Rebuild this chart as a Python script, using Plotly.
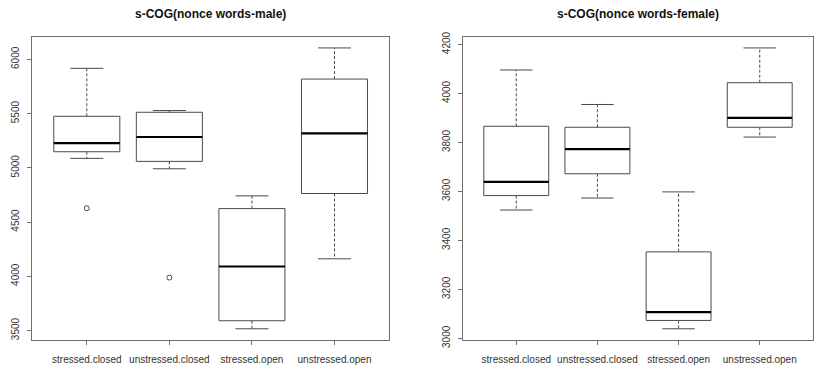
import plotly.graph_objects as go

categories = ["stressed.closed", "unstressed.closed", "stressed.open", "unstressed.open"]

# male panel (five-number summaries + outliers)
male_lower = [5087, 4991, 3516, 4161]
male_q1 = [5148, 5059, 3590, 4763]
male_median = [5228, 5284, 4090, 5318]
male_q3 = [5475, 5512, 4624, 5818]
male_upper = [5917, 5528, 4741, 6105]
male_outliers = [[4627], [3988], [], []]

# female panel
female_lower = [3524, 3573, 3039, 3822]
female_q1 = [3583, 3672, 3073, 3862]
female_median = [3639, 3773, 3107, 3900]
female_q3 = [3866, 3862, 3353, 4044]
female_upper = [4096, 3955, 3598, 4186]
female_outliers = [[], [], [], []]

male_ticks = [3500, 4000, 4500, 5000, 5500, 6000]
female_ticks = [3000, 3200, 3400, 3600, 3800, 4000, 4200]

titles = ["s-COG(nonce words-male)", "s-COG(nonce words-female)"]

BOX_HALF = 0.4
CAP_HALF = 0.2
LINE_COL = "#4a4a4a"
FRAME_COL = "#6e6e6e"
TEXT_COL = "#333333"
FONT = "Liberation Sans, Arial, sans-serif"

fig = go.Figure()


def add_panel(xa, ya, lower, q1, med, q3, upper, outliers):
    xs = list(range(1, len(categories) + 1))
    bx, by, mx, my, wx, wy, cx, cy, ox, oy = [], [], [], [], [], [], [], [], [], []
    for i, x in enumerate(xs):
        bx += [x - BOX_HALF, x + BOX_HALF, x + BOX_HALF, x - BOX_HALF, x - BOX_HALF, None]
        by += [q1[i], q1[i], q3[i], q3[i], q1[i], None]
        mx += [x - BOX_HALF, x + BOX_HALF, None]
        my += [med[i], med[i], None]
        wx += [x, x, None, x, x, None]
        wy += [q3[i], upper[i], None, q1[i], lower[i], None]
        cx += [x - CAP_HALF, x + CAP_HALF, None, x - CAP_HALF, x + CAP_HALF, None]
        cy += [upper[i], upper[i], None, lower[i], lower[i], None]
        for v in outliers[i]:
            ox.append(x)
            oy.append(v)
    common = dict(xaxis=xa, yaxis=ya, showlegend=False, hoverinfo="skip")
    fig.add_trace(go.Scatter(x=wx, y=wy, mode="lines",
                             line=dict(color=LINE_COL, width=1, dash="3px,2px"), **common))
    fig.add_trace(go.Scatter(x=cx, y=cy, mode="lines",
                             line=dict(color=LINE_COL, width=1), **common))
    fig.add_trace(go.Scatter(x=bx, y=by, mode="lines",
                             line=dict(color=LINE_COL, width=1), **common))
    fig.add_trace(go.Scatter(x=mx, y=my, mode="lines",
                             line=dict(color="#000000", width=2.2), **common))
    if ox:
        fig.add_trace(go.Scatter(x=ox, y=oy, mode="markers",
                                 marker=dict(symbol="circle-open", size=5,
                                             color=LINE_COL, line=dict(width=1)), **common))


add_panel("x", "y", male_lower, male_q1, male_median, male_q3, male_upper, male_outliers)
add_panel("x2", "y2", female_lower, female_q1, female_median, female_q3, female_upper, female_outliers)

def yr(lo, hi):
    d = (hi - lo) * 0.04
    return [lo - d, hi + d]

axis_common = dict(showline=True, mirror=True, linecolor=FRAME_COL, linewidth=1.2,
                   showgrid=False, zeroline=False, ticks="outside", ticklen=4,
                   automargin=False,
                   tickcolor=FRAME_COL, tickfont=dict(family=FONT, size=10, color=TEXT_COL))

ydomain = [1 - 340 / 376, 1 - 36.7 / 376]
fig.update_layout(
    width=827, height=376,
    margin=dict(l=0, r=0, t=0, b=0),
    paper_bgcolor="white", plot_bgcolor="white",
    xaxis=dict(domain=[32.3 / 827, 389 / 827], range=[0.34, 4.66],
               tickvals=[1, 2, 3, 4], ticktext=categories, ticklabelstandoff=6, **axis_common),
    yaxis=dict(domain=ydomain, range=yr(min(male_lower), max(male_upper)),
               tickvals=male_ticks, tickangle=-90, ticklabelstandoff=4, **axis_common),
    xaxis2=dict(domain=[462.7 / 827, 813.3 / 827], range=[0.34, 4.66], anchor="y2",
                tickvals=[1, 2, 3, 4], ticktext=categories, ticklabelstandoff=6, **axis_common),
    yaxis2=dict(domain=ydomain, range=yr(min(female_lower), max(female_upper)), anchor="x2",
                tickvals=female_ticks, tickangle=-90, ticklabelstandoff=4, **axis_common),
    annotations=[
        dict(text="<b>" + titles[0] + "</b>", x=(32.3 + 389) / 2 / 827, y=1 - 14 / 376,
             xref="paper", yref="paper", showarrow=False, xanchor="center", yanchor="middle",
             font=dict(family=FONT, size=12, color="#111111")),
        dict(text="<b>" + titles[1] + "</b>", x=(462.7 + 813.3) / 2 / 827, y=1 - 14 / 376,
             xref="paper", yref="paper", showarrow=False, xanchor="center", yanchor="middle",
             font=dict(family=FONT, size=12, color="#111111")),
    ],
)

fig.write_html("out.html", config={"displayModeBar": False},
               post_script="document.body.style.margin='0';")
